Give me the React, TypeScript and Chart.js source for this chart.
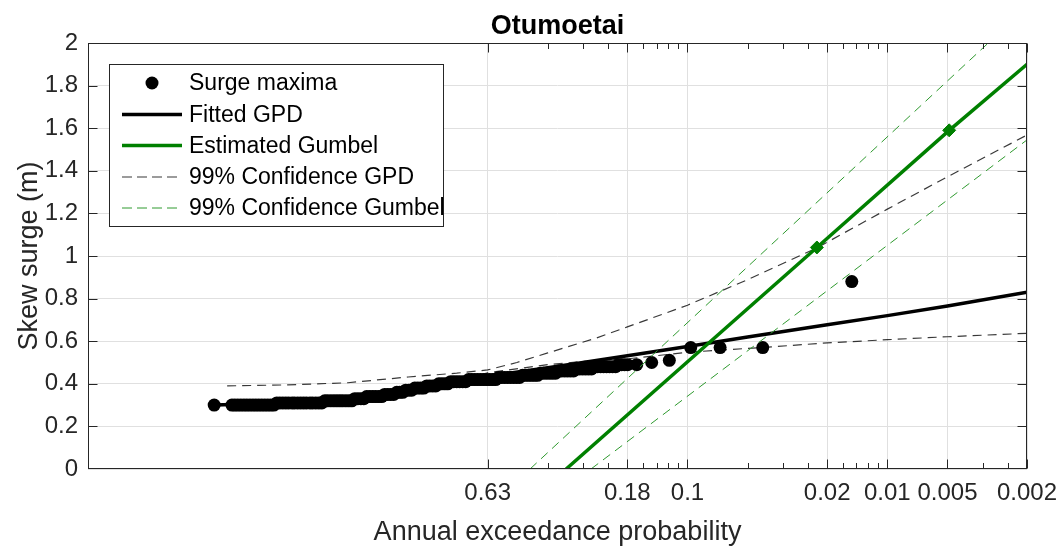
import React, { useEffect, useRef } from 'react';
import { Chart, registerables } from 'chart.js';

Chart.register(...registerables);

// ---------- data (x = average recurrence interval in years, shown as AEP labels) ----------
const maximaARI = [
  0.0428,
  0.0525, 0.0543, 0.0562, 0.0582, 0.0603, 0.0624, 0.0646, 0.0669, 0.0692, 0.0716,
  0.0741, 0.0767, 0.0794, 0.0822, 0.0851, 0.0881, 0.0912, 0.0944, 0.0977, 0.101,
  0.105, 0.108, 0.112, 0.116, 0.120, 0.124, 0.129, 0.133, 0.138, 0.143,
  0.148, 0.153, 0.158, 0.164, 0.170, 0.176, 0.182, 0.188, 0.195, 0.202,
  0.209, 0.216, 0.224, 0.232, 0.240, 0.248, 0.257, 0.266, 0.275, 0.285,
  0.295, 0.305, 0.316, 0.327, 0.339, 0.351, 0.363, 0.376, 0.389, 0.403,
  0.417, 0.432, 0.447, 0.463, 0.479, 0.496, 0.513, 0.531, 0.550, 0.569,
  0.589, 0.610, 0.631, 0.653, 0.676, 0.700, 0.724, 0.750, 0.776, 0.803,
  0.832, 0.861, 0.891, 0.922, 0.955, 0.988, 1.023, 1.059, 1.096, 1.135,
  1.175, 1.216, 1.259, 1.303, 1.349, 1.396, 1.445, 1.496, 1.549, 1.603,
  1.660, 1.718, 1.778, 1.841, 1.905, 1.972, 2.042, 2.113, 2.188, 2.265,
  2.344, 2.427, 2.512, 2.600, 2.692, 2.786, 2.884, 2.985, 3.090, 3.199,
  3.311, 3.427, 3.548, 3.673, 3.802, 3.936, 4.074, 4.217, 4.365, 4.519,
  4.677, 4.842, 5.012,
  5.57, 6.62, 8.11, 10.38, 14.56, 23.8, 66.4,
];
const maximaSurge = [
  0.30,
  0.30, 0.30, 0.30, 0.30, 0.30, 0.30, 0.30, 0.30, 0.30, 0.30,
  0.30, 0.30, 0.30, 0.30, 0.30, 0.31, 0.31, 0.31, 0.31, 0.31,
  0.31, 0.31, 0.31, 0.31, 0.31, 0.31, 0.31, 0.31, 0.31, 0.31,
  0.31, 0.32, 0.32, 0.32, 0.32, 0.32, 0.32, 0.32, 0.32, 0.32,
  0.32, 0.33, 0.33, 0.33, 0.33, 0.34, 0.34, 0.34, 0.34, 0.34,
  0.34, 0.35, 0.35, 0.35, 0.35, 0.36, 0.36, 0.36, 0.37, 0.37,
  0.37, 0.38, 0.38, 0.38, 0.38, 0.39, 0.39, 0.39, 0.39, 0.40,
  0.40, 0.40, 0.40, 0.41, 0.41, 0.41, 0.41, 0.41, 0.41, 0.42,
  0.42, 0.42, 0.42, 0.42, 0.42, 0.42, 0.42, 0.42, 0.42, 0.43,
  0.43, 0.43, 0.43, 0.43, 0.43, 0.43, 0.43, 0.44, 0.44, 0.44,
  0.44, 0.44, 0.44, 0.45, 0.45, 0.45, 0.45, 0.45, 0.45, 0.46,
  0.46, 0.46, 0.46, 0.46, 0.46, 0.47, 0.47, 0.47, 0.47, 0.47,
  0.47, 0.48, 0.48, 0.48, 0.48, 0.48, 0.48, 0.48, 0.48, 0.49,
  0.49, 0.49, 0.49,
  0.49, 0.50, 0.51, 0.57, 0.57, 0.57, 0.88,
];

const gpdARI = [0.0428, 0.1, 0.2, 0.5, 1, 2, 3, 5, 10, 20, 50, 100, 200, 500];
const gpdFit = [0.30, 0.31, 0.33, 0.385, 0.435, 0.475, 0.50, 0.532, 0.575, 0.62, 0.677, 0.72, 0.765, 0.83];

const gpdUpperARI = [0.0497, 0.1, 0.2, 0.4, 0.7, 1, 1.4, 2, 3.5, 5, 10, 20, 44, 100, 200, 500];
const gpdUpper = [0.39, 0.395, 0.405, 0.432, 0.45, 0.465, 0.50, 0.545, 0.615, 0.667, 0.769, 0.889, 1.036, 1.22, 1.372, 1.568];

const gpdLowerARI = [0.0497, 0.1, 0.2, 0.5, 0.8, 1, 2, 3, 5, 10, 25, 50, 100, 200, 500];
const gpdLower = [0.30, 0.31, 0.325, 0.38, 0.425, 0.452, 0.49, 0.505, 0.517, 0.548, 0.572, 0.592, 0.607, 0.621, 0.637];

const gumbelARI = [2.47, 44.4, 204, 500];
const gumbelLevel = [0, 1.04, 1.59, 1.90];
const gumbelMarkedIndex = [1, 2];

const gumbelUpperARI = [1.63, 320];
const gumbelUpper = [0, 2.0];
const gumbelLowerARI = [3.29, 500];
const gumbelLower = [0, 1.545];

const xTickARI = [1, 5, 10, 50, 100, 200, 500];
const xTickLabels = ['0.63', '0.18', '0.1', '0.02', '0.01', '0.005', '0.002'];
const xMinorARI = [2, 3, 4, 6, 7, 8, 9, 20, 30, 40, 60, 70, 80, 90, 300, 400];
const yTickValues = [0.2, 0.4, 0.6, 0.8, 1, 1.2, 1.4, 1.6, 1.8];

const titleText = 'Otumoetai';
const xTitle = 'Annual exceedance probability';
const yTitle = 'Skew surge (m)';
const legendLabels = [
  'Surge maxima',
  'Fitted GPD',
  'Estimated Gumbel',
  '99% Confidence GPD',
  '99% Confidence Gumbel',
];

// ---------- styles ----------
const FONT = "'Liberation Sans', Arial, Helvetica, sans-serif";
const AXIS_COLOR = '#262626';
const GREEN = '#008000';
const GREEN_DASH = '#2f9a2f';
const GPD_DASH = 'rgba(0,0,0,0.78)';

const pts = (xs: number[], ys: number[]) => xs.map((v, i) => ({ x: v, y: ys[i] }));

const decorPlugin = {
  id: 'decor',
  afterDraw(chart: any) {
    const { ctx, chartArea: a, scales } = chart;
    const xs = scales.x;
    const ys = scales.y;
    ctx.save();

    // axes box
    ctx.strokeStyle = AXIS_COLOR;
    ctx.lineWidth = 1;
    ctx.setLineDash([]);
    const L = Math.round(a.left) + 0.5;
    const R = Math.round(a.right) - 0.5;
    const T = Math.round(a.top) + 0.5;
    const B = Math.round(a.bottom) - 0.5;
    ctx.strokeRect(L, T, R - L, B - T);

    // inward ticks
    const tick = (px: number, len: number) => {
      const p = Math.round(px) + 0.5;
      ctx.beginPath();
      ctx.moveTo(p, B); ctx.lineTo(p, B - len);
      ctx.moveTo(p, T); ctx.lineTo(p, T + len);
      ctx.stroke();
    };
    xTickARI.forEach((v) => tick(xs.getPixelForValue(v), 9));
    xMinorARI.forEach((v) => tick(xs.getPixelForValue(v), 5.5));
    yTickValues.forEach((v) => {
      const p = Math.round(ys.getPixelForValue(v)) + 0.5;
      ctx.beginPath();
      ctx.moveTo(L, p); ctx.lineTo(L + 9, p);
      ctx.moveTo(R, p); ctx.lineTo(R - 9, p);
      ctx.stroke();
    });

    // titles
    const cx = (a.left + a.right) / 2;
    const cy = (a.top + a.bottom) / 2;
    ctx.fillStyle = '#000';
    ctx.font = `bold 27px ${FONT}`;
    ctx.textAlign = 'center';
    ctx.textBaseline = 'alphabetic';
    ctx.fillText(titleText, cx, 34);

    ctx.fillStyle = AXIS_COLOR;
    ctx.font = `27px ${FONT}`;
    ctx.fillText(xTitle, cx, 540);

    ctx.save();
    ctx.translate(37, cy);
    ctx.rotate(-Math.PI / 2);
    ctx.fillText(yTitle, 0, 0);
    ctx.restore();

    // legend
    const lx = 109.5, ly = 64.5, lw = 334, lh = 162;
    ctx.fillStyle = '#fff';
    ctx.fillRect(lx, ly, lw, lh);
    ctx.strokeStyle = AXIS_COLOR;
    ctx.lineWidth = 1;
    ctx.strokeRect(lx, ly, lw, lh);

    const rows = [83, 114.5, 145.5, 177, 208];
    const s0 = 122, s1 = 182;
    ctx.fillStyle = '#000';
    ctx.beginPath();
    ctx.arc(152, rows[0], 6.5, 0, Math.PI * 2);
    ctx.fill();
    const sample = (y: number, color: string, w: number, dash: number[]) => {
      ctx.strokeStyle = color;
      ctx.lineWidth = w;
      ctx.setLineDash(dash);
      ctx.beginPath();
      ctx.moveTo(s0, y);
      ctx.lineTo(s1, y);
      ctx.stroke();
    };
    sample(rows[1], '#000', 3.5, []);
    sample(rows[2], GREEN, 3.5, []);
    sample(rows[3], GPD_DASH, 1.2, [10, 5]);
    sample(rows[4], GREEN_DASH, 1, [10, 5]);
    ctx.setLineDash([]);

    ctx.fillStyle = '#000';
    ctx.font = `23px ${FONT}`;
    ctx.textAlign = 'left';
    ctx.textBaseline = 'middle';
    legendLabels.forEach((t, i) => ctx.fillText(t, 189, rows[i] + 1));

    ctx.restore();
  },
};

export default function App() {
  const canvasRef = useRef<HTMLCanvasElement | null>(null);

  useEffect(() => {
    const canvas = canvasRef.current;
    if (!canvas) return;
    const dashed = (color: string, w: number) => ({
      showLine: true,
      borderColor: color,
      borderWidth: w,
      borderDash: [9, 6],
      pointRadius: 0,
      fill: false,
    });

    const chart = new Chart(canvas, {
      type: 'scatter',
      data: {
        datasets: [
          {
            label: 'Estimated Gumbel',
            data: pts(gumbelARI, gumbelLevel),
            showLine: true,
            borderColor: GREEN,
            borderWidth: 3.5,
            pointStyle: 'rectRot',
            pointRadius: (c: any) => (gumbelMarkedIndex.includes(c.dataIndex) ? 6.5 : 0),
            pointBackgroundColor: GREEN,
            pointBorderColor: GREEN,
            pointBorderWidth: 1,
            order: 0,
          } as any,
          { label: 'Gumbel upper', data: pts(gumbelUpperARI, gumbelUpper), ...dashed(GREEN_DASH, 1), order: 1 } as any,
          { label: 'Gumbel lower', data: pts(gumbelLowerARI, gumbelLower), ...dashed(GREEN_DASH, 1), order: 1 } as any,
          {
            label: 'Surge maxima',
            data: pts(maximaARI, maximaSurge),
            showLine: false,
            pointRadius: 6.5,
            pointBackgroundColor: '#000',
            pointBorderColor: '#000',
            pointBorderWidth: 0,
            order: 2,
          } as any,
          {
            label: 'Fitted GPD',
            data: pts(gpdARI, gpdFit),
            showLine: true,
            borderColor: '#000',
            borderWidth: 3.5,
            pointRadius: 0,
            order: 3,
          } as any,
          { label: 'GPD upper', data: pts(gpdUpperARI, gpdUpper), ...dashed(GPD_DASH, 1.2), order: 4 } as any,
          { label: 'GPD lower', data: pts(gpdLowerARI, gpdLower), ...dashed(GPD_DASH, 1.2), order: 4 } as any,
        ],
      },
      options: {
        animation: false,
        responsive: false,
        maintainAspectRatio: false,
        layout: { padding: { top: 43, right: 35, left: 0, bottom: 0 } },
        plugins: {
          legend: { display: false },
          title: { display: false },
          tooltip: { enabled: false },
        },
        scales: {
          x: {
            type: 'logarithmic',
            min: 0.01,
            max: 500,
            afterBuildTicks: (s: any) => {
              s.ticks = xTickARI.map((v) => ({ value: v }));
            },
            afterFit: (s: any) => {
              s.height = 78;
              s.paddingLeft = 0;
              s.paddingRight = 0;
            },
            ticks: {
              autoSkip: false,
              maxRotation: 0,
              minRotation: 0,
              padding: 10,
              color: AXIS_COLOR,
              font: { family: FONT, size: 24 },
              callback: (v: any) => {
                const i = xTickARI.indexOf(Number(v));
                return i >= 0 ? xTickLabels[i] : '';
              },
            },
            grid: { color: '#e0e0e0', lineWidth: 1, drawTicks: false },
            border: { display: false },
          },
          y: {
            type: 'linear',
            min: 0,
            max: 2,
            afterFit: (s: any) => {
              s.width = 88;
              s.paddingTop = 0;
              s.paddingBottom = 0;
            },
            ticks: {
              stepSize: 0.2,
              padding: 10,
              color: AXIS_COLOR,
              font: { family: FONT, size: 24 },
              callback: (v: any) => String(Math.round(Number(v) * 10) / 10),
            },
            grid: { color: '#e0e0e0', lineWidth: 1, drawTicks: false },
            border: { display: false },
          },
        },
      } as any,
      plugins: [decorPlugin],
    });

    return () => chart.destroy();
  }, []);

  return (
    <div style={{ position: 'fixed', left: 0, top: 0, width: 1062, height: 547, background: '#fff' }}>
      <canvas ref={canvasRef} width={1062} height={547} style={{ display: 'block', width: 1062, height: 547 }} />
    </div>
  );
}
